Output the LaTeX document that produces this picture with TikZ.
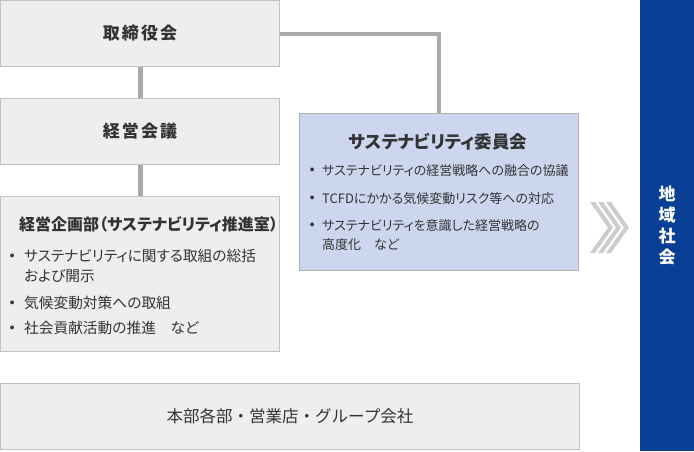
\documentclass[tikz,border=0pt]{standalone}
\usepackage{fontspec}
\setmainfont{Noto Sans CJK JP}[RawFeature=+palt]
\newfontfamily\widefont{Noto Sans CJK JP}
\usetikzlibrary{positioning}

\definecolor{boxgray}{HTML}{EEEEEE}
\definecolor{edgegray}{HTML}{C2C2C2}
\definecolor{linkgray}{HTML}{AAAAAA}
\definecolor{committeeblue}{HTML}{CDD6EF}
\definecolor{barblue}{HTML}{0A3F96}
\definecolor{chevgray}{HTML}{CCCCCC}
\definecolor{textgray}{HTML}{333333}

\newcommand{\dotitem}[1]{\makebox[#1][c]{\raisebox{0.25em}{\widefont\fontsize{4.2}{0}\selectfont ●}}}

\tikzset{
  orgbox/.style={draw=edgegray, fill=boxgray, line width=1pt, inner sep=0pt, text=textgray},
  link/.style={draw=linkgray, line width=5pt},
  headtext/.style={inner sep=0pt, text=textgray, font=\bfseries\fontsize{16}{20}\selectfont},
  itemtext/.style={anchor=base west, inner sep=0pt, align=left, text=textgray},
}

\begin{document}
\begin{tikzpicture}[x=1pt,y=-1pt]
  \useasboundingbox (0,0) rectangle (694,451);

  % left column
  \node [orgbox, minimum width=279, minimum height=66,
         font=\bfseries\fontsize{17}{20}\selectfont\addfontfeature{LetterSpace=12}]
        (board) at (140,33.5) {取締役会};
  \node [orgbox, minimum width=279, minimum height=66,
         font=\bfseries\fontsize{17}{20}\selectfont\addfontfeature{LetterSpace=12}]
        (meeting) at (140,131.5) {経営会議};
  \node [orgbox, minimum width=279, minimum height=155] (planning) at (140,274) {};

  \node [headtext, anchor=base west] (planningtitle) at (19,230) {経営企画部（サステナビリティ推進室）};
  % two-line items sit on the base of their last line
  \node [itemtext, font=\fontsize{14.7}{20}\selectfont] (planningone) at (0,281.5)
        {\dotitem{24pt}サステナビリティに関する取組の総括\\\hspace*{24pt}および開示};
  \node [itemtext, font=\fontsize{14.7}{20}\selectfont] (planningtwo) at (0,308.5)
        {\dotitem{24pt}気候変動対策への取組};
  \node [itemtext, font=\fontsize{14.7}{20}\selectfont] (planningthree) at (0,333.5)
        {\dotitem{24pt}社会貢献活動の推進\hspace{1em}など};

  % committee
  \node [orgbox, fill=committeeblue, draw=edgegray!90!black, minimum width=279, minimum height=157]
        (committee) at (439,192) {};
  \node [headtext, anchor=base, font=\bfseries\fontsize{17.5}{20}\selectfont]
        (committeetitle) at (438,148.5) {サステナビリティ委員会};
  \node [itemtext, font=\fontsize{13}{19}\selectfont] (committeeone) at (302,175)
        {\dotitem{20pt}サステナビリティの経営戦略への融合の協議};
  \node [itemtext, font=\fontsize{13}{19}\selectfont] (committeetwo) at (302,203)
        {\dotitem{20pt}TCFDにかかる気候変動リスク等への対応};
  \node [itemtext, font=\fontsize{13}{19}\selectfont] (committeethree) at (302,249)
        {\dotitem{20pt}サステナビリティを意識した経営戦略の\\\hspace*{20pt}高度化\hspace{1em}など};

  % bottom row
  \node [orgbox, minimum width=579, minimum height=66,
         font=\widefont\fontsize{16.5}{20}\selectfont]
        (branches) at (290,416.5) {本部各部・営業店・グループ会社};

  % links
  \draw [link] (board.south) -- (meeting.north);
  \draw [link] (meeting.south) -- (planning.north);
  \draw [link, line width=4pt] (board.east) -| (committee.north);

  % chevrons and region bar
  \foreach \dx in {0,8,16}
    \fill [chevgray] (590+\dx,202) -- ++(5,0) -- ++(18,25.5) -- ++(-18,25.5)
                     -- ++(-5,0) -- ++(18,-25.5) -- cycle;

  \node [fill=barblue, minimum width=54, minimum height=451, inner sep=0pt,
         text=white, align=center, font=\bfseries\fontsize{17}{21}\selectfont]
        (region) at (667,225.5) {地\\域\\社\\会};

\end{tikzpicture}
\end{document}
